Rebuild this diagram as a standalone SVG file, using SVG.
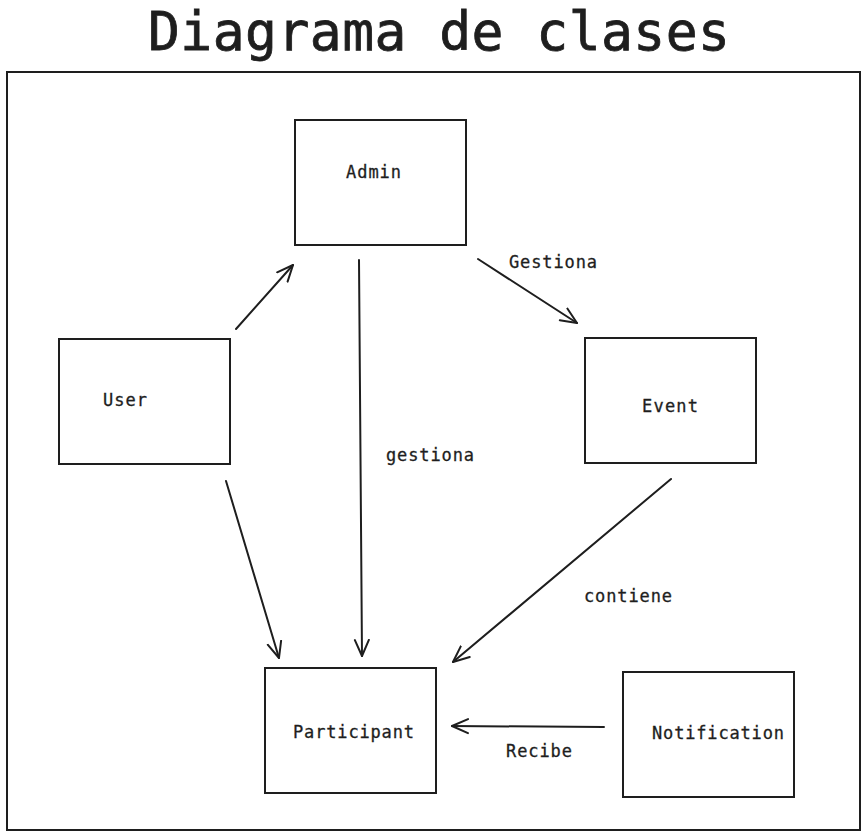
<svg xmlns="http://www.w3.org/2000/svg" width="868" height="836" viewBox="0 0 868 836">
<style>
.box{fill:#fff;stroke:#1e1e1e;stroke-width:2}
.t{font-family:"DejaVu Sans Mono","Liberation Mono",monospace;font-size:17px;fill:#1e1e1e;stroke:#1e1e1e;stroke-width:0.3}
.e{fill:none;stroke:#1e1e1e;stroke-width:2;stroke-linecap:round}
</style>
<defs>
<marker id="a" viewBox="0 0 20 20" refX="17" refY="10" markerWidth="20" markerHeight="20" markerUnits="userSpaceOnUse" orient="auto">
<path d="M1,3 L17,10 L1,17" fill="none" stroke="#1e1e1e" stroke-width="2" stroke-linecap="round" stroke-linejoin="round"/>
</marker>
</defs>
<rect width="868" height="836" fill="#fff"/>
<text x="439" y="50" text-anchor="middle" font-family="DejaVu Sans Mono, monospace" font-size="53" fill="#1e1e1e" stroke="#1e1e1e" stroke-width="0.8" textLength="582">Diagrama de clases</text>
<rect x="7" y="72" width="853" height="758" fill="none" stroke="#1e1e1e" stroke-width="2"/>
<g id="admin"><rect class="box" x="295" y="120" width="171" height="125"/><text class="t" x="346" y="178" textLength="55">Admin</text></g>
<g id="user"><rect class="box" x="59" y="339" width="171" height="125"/><text class="t" x="103" y="406" textLength="44">User</text></g>
<g id="event"><rect class="box" x="585" y="338" width="171" height="125"/><text class="t" x="642" y="412" textLength="56">Event</text></g>
<g id="participant"><rect class="box" x="265" y="668" width="171" height="125"/><text class="t" x="293" y="738" textLength="121">Participant</text></g>
<g id="notification"><rect class="box" x="623" y="672" width="171" height="125"/><text class="t" x="652" y="739" textLength="132">Notification</text></g>
<g id="connectors">
<line class="e" x1="236" y1="329" x2="293" y2="265" marker-end="url(#a)"/>
<line class="e" x1="478" y1="259" x2="577" y2="323" marker-end="url(#a)"/>
<line class="e" x1="359" y1="260" x2="362" y2="656" marker-end="url(#a)"/>
<line class="e" x1="226" y1="481" x2="279" y2="658" marker-end="url(#a)"/>
<line class="e" x1="671" y1="479" x2="453" y2="662" marker-end="url(#a)"/>
<line class="e" x1="604" y1="727" x2="452" y2="726" marker-end="url(#a)"/>
<text class="t" x="509" y="268" textLength="88">Gestiona</text>
<text class="t" x="386" y="461" textLength="88">gestiona</text>
<text class="t" x="584" y="602" textLength="88">contiene</text>
<text class="t" x="506" y="757" textLength="66">Recibe</text>
</g>
</svg>
